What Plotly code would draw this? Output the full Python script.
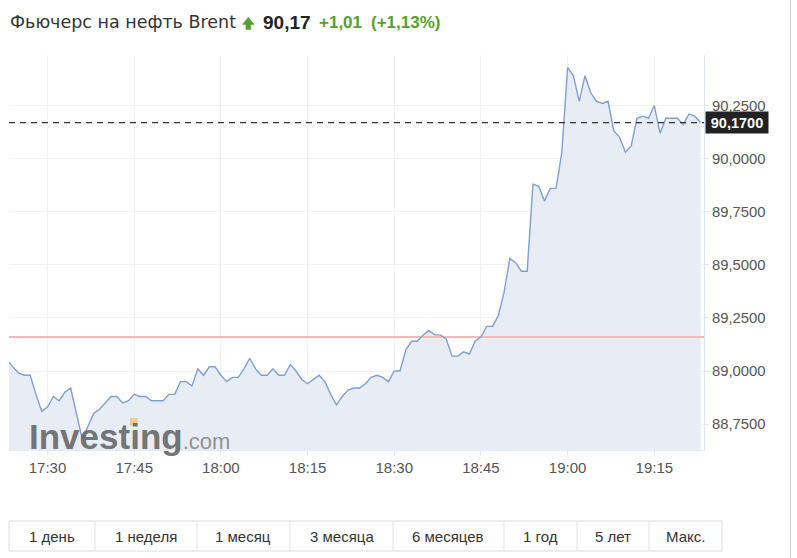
import pandas as pd
import plotly.graph_objects as go

# ---- data ----
start_time = "2023-10-02 17:23"
prices = [
    89.05, 89.02, 88.99, 88.98, 88.98, 88.89, 88.81,             # 17:23-17:29
    88.83, 88.88, 88.86, 88.90, 88.92, 88.80, 88.68, 88.74, 88.80, 88.82,  # 17:30-17:39
    88.85, 88.88, 88.88, 88.85, 88.86, 88.89, 88.88, 88.88, 88.86, 88.86,  # 17:40-17:49
    88.86, 88.89, 88.89, 88.95, 88.95, 88.93, 89.01, 88.98, 89.02, 89.02,  # 17:50-17:59
    88.98, 88.95, 88.97, 88.97, 89.01, 89.06, 89.01, 88.98, 88.98, 89.01,  # 18:00-18:09
    88.98, 88.98, 89.03, 89.00, 88.96, 88.94, 88.96, 88.98, 88.95, 88.89,  # 18:10-18:19
    88.84, 88.88, 88.91, 88.92, 88.92, 88.94, 88.97, 88.98, 88.97, 88.95,  # 18:20-18:29
    89.00, 89.00, 89.10, 89.14, 89.14, 89.17, 89.19, 89.17, 89.17, 89.15,  # 18:30-18:39
    89.07, 89.07, 89.09, 89.08, 89.14, 89.16, 89.21, 89.21, 89.26, 89.37,  # 18:40-18:49
    89.53, 89.51, 89.47, 89.47, 89.88, 89.87, 89.80, 89.86, 89.86, 90.03,  # 18:50-18:59
    90.43, 90.39, 90.27, 90.39, 90.31, 90.27, 90.26, 90.27, 90.13, 90.10,  # 19:00-19:09
    90.03, 90.06, 90.19, 90.20, 90.19, 90.25, 90.12, 90.19, 90.19, 90.19,  # 19:10-19:19
    90.16, 90.21, 90.20, 90.17,                                          # 19:20-19:23
]
times = pd.date_range(start_time, periods=len(prices), freq="1min")

x_range = ["2023-10-02 17:23:20", "2023-10-02 19:23:36"]
last_price = 90.17
prev_close = 89.16
change = "+1,01"
change_pct = "(+1,13%)"
title_text = "Фьючерс на нефть Brent"
price_text = "90,17"
last_label = "90,1700"
y_ticks = [88.75, 89.00, 89.25, 89.50, 89.75, 90.00, 90.25]
buttons = ["1 день", "1 неделя", "1 месяц", "3 месяца", "6 месяцев", "1 год", "5 лет", "Макс."]

# ---- layout geometry (pixels) ----
W, H = 797, 558
PL, PR, PT, PB = 9, 704, 55, 450


def px(x):
    return round((x - PL) / (PR - PL), 5)


def py(y):
    return round((PB - y) / (PB - PT), 5)


green = "#55a12c"

shapes = []
# last price dashed line
shapes.append(dict(type="line", xref="paper", yref="y", x0=0, x1=1, y0=last_price, y1=last_price,
                   layer="above", line=dict(color="#333333", width=1.2, dash="6px,5px")))
# up arrow in header
arrow_pts = [(242.5, 24.5), (248.3, 17.2), (254.2, 24.5), (250.8, 24.5),
             (250.8, 29.5), (245.9, 29.5), (245.9, 24.5)]
arrow_path = "M " + " L ".join(f"{px(a)},{py(b)}" for a, b in arrow_pts) + " Z"
shapes.append(dict(type="path", xref="paper", yref="paper", path=arrow_path,
                   fillcolor=green, line=dict(color=green, width=0.5)))
# page right border
shapes.append(dict(type="line", xref="paper", yref="paper",
                   x0=px(790.5), x1=px(790.5), y0=py(0), y1=py(H),
                   line=dict(color="#d0d0d0", width=1)))
# button bar
bx = [9, 95, 197, 290, 393, 504, 577, 649, 722]
shapes.append(dict(type="rect", xref="paper", yref="paper",
                   x0=px(bx[0]), x1=px(bx[-1]), y0=py(551), y1=py(521),
                   line=dict(color="#dddddd", width=1)))
for xb in bx[1:-1]:
    shapes.append(dict(type="line", xref="paper", yref="paper",
                       x0=px(xb), x1=px(xb), y0=py(551), y1=py(521),
                       line=dict(color="#e2e2e2", width=1)))
# orange dot of watermark
shapes.append(dict(type="rect", xref="paper", yref="paper", layer="above",
                   x0=px(130), x1=px(137.5), y0=py(425.5), y1=py(418),
                   fillcolor="rgba(240,200,130,0.9)", line=dict(width=0)))

annotations = []
annotations.append(dict(xref="paper", yref="paper", x=px(8), y=py(22), xanchor="left", yanchor="middle",
                        text=title_text, showarrow=False,
                        font=dict(family="DejaVu Sans, Liberation Sans, Arial", size=17.5, color="#333333")))
annotations.append(dict(xref="paper", yref="paper", x=px(261), y=py(22), xanchor="left", yanchor="middle",
                        text=f"<b>{price_text}</b>", showarrow=False,
                        font=dict(family="Liberation Sans, Arial", size=19, color="#222222")))
annotations.append(dict(xref="paper", yref="paper", x=px(317), y=py(22), xanchor="left", yanchor="middle",
                        text=f"<b>{change}</b>", showarrow=False,
                        font=dict(family="Liberation Sans, Arial", size=17, color=green)))
annotations.append(dict(xref="paper", yref="paper", x=px(369), y=py(22), xanchor="left", yanchor="middle",
                        text=f"<b>{change_pct}</b>", showarrow=False,
                        font=dict(family="Liberation Sans, Arial", size=17, color=green)))
# last price label
annotations.append(dict(xref="paper", yref="y", x=1.0, y=last_price, xanchor="left", yanchor="middle",
                        xshift=1, text=f"<b>{last_label}</b>", showarrow=False,
                        bgcolor="#222222", borderpad=3, width=56, height=15,
                        font=dict(family="Liberation Sans, Arial", size=14.5, color="#ffffff")))
# watermark
annotations.append(dict(xref="paper", yref="paper", x=px(27), y=py(436), xanchor="left", yanchor="middle",
                        text="<b>Investing</b><span style='font-size:22px;color:rgba(115,115,115,0.85)'>.com</span>",
                        showarrow=False,
                        font=dict(family="Liberation Sans, Arial", size=35, color="rgba(100,100,100,0.9)")))
# buttons
for i, lab in enumerate(buttons):
    annotations.append(dict(xref="paper", yref="paper", x=px((bx[i] + bx[i + 1]) / 2), y=py(536.5),
                            xanchor="center", yanchor="middle", text=lab, showarrow=False,
                            font=dict(family="Liberation Sans Narrow, Liberation Sans, Arial", size=15,
                                      color="#333333")))

fig = go.Figure()
# area fill
fig.add_trace(go.Scatter(
    x=times, y=prices, mode="none",
    fill="tozeroy", fillcolor="#e8ecf5",
    hoverinfo="skip", showlegend=False,
))
# previous close line (between fill and price line)
fig.add_trace(go.Scatter(
    x=x_range, y=[prev_close, prev_close], mode="lines",
    line=dict(color="#f4baba", width=2),
    hoverinfo="skip", showlegend=False,
))
# price line
fig.add_trace(go.Scatter(
    x=times, y=prices, mode="lines",
    line=dict(color="#7f9fd3", width=1.4),
    hoverinfo="skip", showlegend=False,
))

fig.update_layout(
    width=W, height=H,
    margin=dict(l=PL, r=W - PR, t=PT, b=H - PB, pad=0),
    paper_bgcolor="white", plot_bgcolor="white",
    separators=", ",
    showlegend=False, hovermode=False,
    shapes=shapes, annotations=annotations,
    xaxis=dict(
        range=x_range,
        tickformat="%H:%M", dtick=15 * 60 * 1000, tick0="2023-10-02 17:30",
        showgrid=True, gridcolor="#f0f2f5", gridwidth=1,
        ticks="outside", ticklen=4, tickcolor="#e0e6ee",
        showline=True, linecolor="#e6e9ee", linewidth=1,
        tickfont=dict(family="Liberation Sans Narrow, Liberation Sans, Arial", size=15, color="#555555"),
        zeroline=False, fixedrange=True,
    ),
    yaxis=dict(
        side="right", range=[88.628, 90.488],
        tickvals=y_ticks, tickformat=".4f",
        showgrid=True, gridcolor="#f0f2f5", gridwidth=1,
        ticks="outside", ticklen=4, tickcolor="#dfe6f0",
        showline=True, linecolor="#dfe6f0", linewidth=1,
        tickfont=dict(family="Liberation Sans, Arial", size=14.8, color="#555555"),
        zeroline=False, fixedrange=True,
    ),
)

fig.write_html("out.html", config={"displayModeBar": False},
               post_script="document.body.style.margin='0';")
